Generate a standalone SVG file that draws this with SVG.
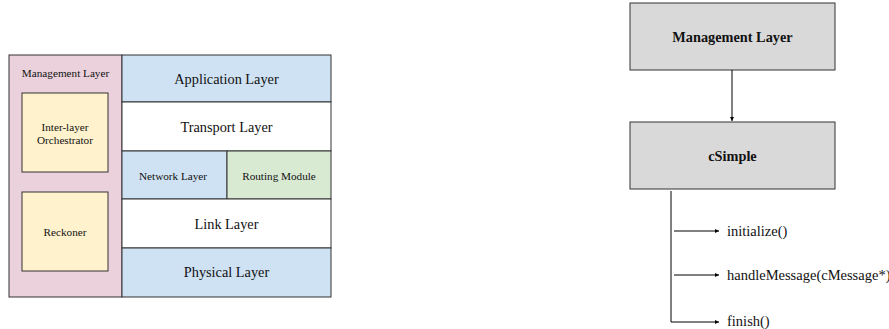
<svg xmlns="http://www.w3.org/2000/svg" width="889" height="329" viewBox="0 0 889 329">
  <style>
    .box { stroke: #333; stroke-width: 1; }
    .t { font-family: "Liberation Serif", "Times New Roman", serif; fill: #111; text-anchor: middle; dominant-baseline: central; }
    .big { font-size: 14.3px; }
    .small { font-size: 11.2px; }
    .bold { font-size: 14.3px; font-weight: bold; }
    .fn { font-size: 14.5px; text-anchor: start; }
    .wire { stroke: #000; stroke-width: 1; fill: none; }
  </style>
  <defs>
    <marker id="arrow" viewBox="0 0 10 10" refX="10" refY="5" markerWidth="4" markerHeight="4" orient="auto">
      <path d="M0,0 L10,5 L0,10 z" fill="#000"/>
    </marker>
  </defs>
  <rect width="889" height="329" fill="#fff"/>

  <!-- Layered stack -->
  <g id="management-layer">
    <rect class="box" x="9" y="55" width="113" height="242" fill="#ead1dc"/>
    <text class="t small" x="65.5" y="73">Management Layer</text>
  </g>
  <g id="orchestrator">
    <rect class="box" x="22" y="93" width="86" height="79" fill="#fff2cc"/>
    <text class="t small" x="65" y="127">Inter-layer</text>
    <text class="t small" x="65" y="140">Orchestrator</text>
  </g>
  <g id="reckoner">
    <rect class="box" x="22" y="192" width="86" height="79" fill="#fff2cc"/>
    <text class="t small" x="65" y="232">Reckoner</text>
  </g>
  <g id="application-layer">
    <rect class="box" x="122" y="55" width="209" height="47" fill="#cfe2f3"/>
    <text class="t big" x="226.5" y="79">Application Layer</text>
  </g>
  <g id="transport-layer">
    <rect class="box" x="122" y="102" width="209" height="49" fill="#fff"/>
    <text class="t big" x="226.5" y="127">Transport Layer</text>
  </g>
  <g id="network-layer">
    <rect class="box" x="122" y="151" width="105" height="48" fill="#cfe2f3"/>
    <text class="t small" x="173" y="176">Network Layer</text>
  </g>
  <g id="routing-module">
    <rect class="box" x="227" y="151" width="104" height="48" fill="#d9ead3"/>
    <text class="t small" x="279" y="176">Routing Module</text>
  </g>
  <g id="link-layer">
    <rect class="box" x="122" y="199" width="209" height="49" fill="#fff"/>
    <text class="t big" x="226.5" y="224">Link Layer</text>
  </g>
  <g id="physical-layer">
    <rect class="box" x="122" y="248" width="209" height="49" fill="#cfe2f3"/>
    <text class="t big" x="226.5" y="272">Physical Layer</text>
  </g>

  <!-- Module structure -->
  <g id="management-node">
    <rect class="box" x="630" y="3" width="205" height="67" fill="#d9d9d9"/>
    <text class="t bold" x="732.5" y="37">Management Layer</text>
  </g>
  <g id="csimple-node">
    <rect class="box" x="630" y="122" width="205" height="67" fill="#d9d9d9"/>
    <text class="t bold" x="732.5" y="156">cSimple</text>
  </g>
  <g id="methods">
    <text class="t fn" x="727" y="231">initialize()</text>
    <text class="t fn" x="727" y="275">handleMessage(cMessage*)</text>
    <text class="t fn" x="727" y="321">finish()</text>
  </g>

  <g id="connectors">
    <line class="wire" x1="732" y1="70" x2="732" y2="121" marker-end="url(#arrow)"/>
    <line class="wire" x1="671" y1="191" x2="671" y2="322" stroke="#555"/>
    <line class="wire" x1="674" y1="231" x2="719" y2="231" marker-end="url(#arrow)"/>
    <line class="wire" x1="674" y1="275" x2="719" y2="275" marker-end="url(#arrow)"/>
    <line class="wire" x1="671" y1="322" x2="719" y2="322" marker-end="url(#arrow)"/>
  </g>
</svg>
